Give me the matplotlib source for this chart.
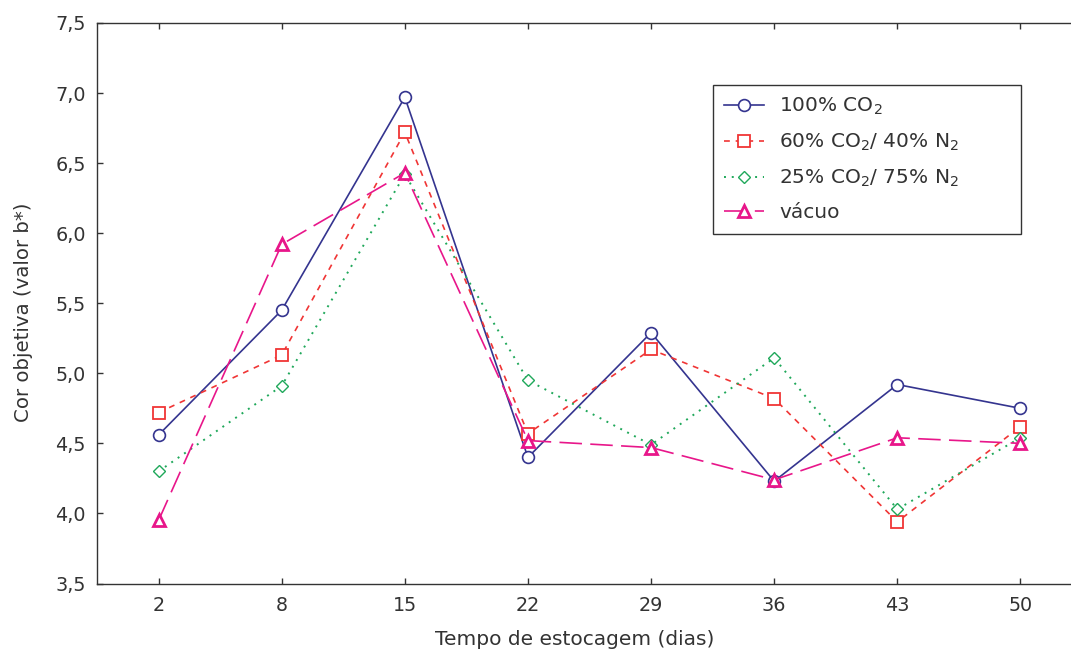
import matplotlib
matplotlib.use("Agg")
import matplotlib.pyplot as plt
import numpy as np

plt.rcParams['font.family'] = ['DejaVu Sans']
plt.rcParams['mathtext.fontset'] = 'dejavusans'
plt.rcParams['mathtext.default'] = 'regular'

days = ["2", "8", "15", "22", "29", "36", "43", "50"]
co2_100 = [4.56, 5.45, 6.97, 4.40, 5.29, 4.23, 4.92, 4.75]
co2_60 = [4.72, 5.13, 6.72, 4.57, 5.17, 4.82, 3.94, 4.62]
co2_25 = [4.30, 4.91, 6.42, 4.95, 4.49, 5.11, 4.03, 4.54]
vacuo = [3.95, 5.92, 6.43, 4.52, 4.47, 4.24, 4.54, 4.50]

labels = [r"100% CO$_2$", r"60% CO$_2$/ 40% N$_2$", r"25% CO$_2$/ 75% N$_2$", "vácuo"]
yticks = [3.5, 4.0, 4.5, 5.0, 5.5, 6.0, 6.5, 7.0, 7.5]
ytick_labels = ["3,5", "4,0", "4,5", "5,0", "5,5", "6,0", "6,5", "7,0", "7,5"]

W, H = 1071, 654
FS = 13.8
TXT = "#333333"
fig = plt.figure(figsize=(W / 100, H / 100), dpi=100)
left, right, bottom, top = 97, 1082, 583.5, 23
ax = fig.add_axes([left / W, 1 - bottom / H, (right - left) / W, (bottom - top) / H])

x = np.arange(len(days))
ax.plot(x, co2_100, color="#34348f", lw=1.2, ls="-", marker="o", ms=8.5,
        mfc="white", mec="#34348f", mew=1.2, label=labels[0], zorder=3)
ax.plot(x, co2_60, color="#f03535", lw=1.2, ls=(0, (3.5, 3.5)), marker="s", ms=8.5,
        mfc="white", mec="#f03535", mew=1.3, label=labels[1], zorder=3)
ax.plot(x, co2_25, color="#1fa85a", lw=1.4, ls=(0, (1, 3)), marker="D", ms=6.5,
        mfc="white", mec="#1fa85a", mew=1.0, label=labels[2], zorder=3)
ax.plot(x, vacuo, color="#e8168a", lw=1.2, ls=(0, (13.5, 5)), marker="^", ms=8.5,
        mfc="white", mec="#e8168a", mew=2.0, label=labels[3], zorder=4)

ax.set_xlim(-0.5, len(days) - 0.5)
ax.set_ylim(3.5, 7.5)
ax.set_xticks(x)
ax.set_xticklabels(days)
ax.set_yticks(yticks)
ax.set_yticklabels(ytick_labels)

ax.tick_params(direction="in", length=4, width=1, colors=TXT,
               labelsize=FS, top=True, right=True, labelcolor=TXT)
ax.tick_params(axis="y", pad=8)
ax.tick_params(axis="x", pad=9)
for s in ax.spines.values():
    s.set_color(TXT)
    s.set_linewidth(1.0)

ax.set_xlabel("Tempo de estocagem (dias)", fontsize=14.5, color=TXT)
ax.set_ylabel("Cor objetiva (valor b*)", fontsize=14.2, color=TXT)
ax.xaxis.set_label_coords((575 - left) / (right - left), (bottom - 630) / (bottom - top))
ax.yaxis.set_label_coords((33 - left) / (right - left), (bottom - 312.5) / (bottom - top))

lx0, lx1, ly0, ly1 = 713, 1021, 85, 233
leg = ax.legend(loc="upper left",
                bbox_to_anchor=(lx0 / W, 1 - ly1 / H, (lx1 - lx0) / W, (ly1 - ly0) / H),
                bbox_transform=fig.transFigure, mode="expand", fontsize=14.5,
                frameon=True, fancybox=False, edgecolor=TXT, borderaxespad=0,
                handlelength=2.0, handletextpad=0.75, labelspacing=0.72,
                borderpad=0.55, framealpha=1)
leg.get_frame().set_linewidth(1.0)
for t in leg.get_texts():
    t.set_color(TXT)

fig.savefig("out.png", dpi=100)
